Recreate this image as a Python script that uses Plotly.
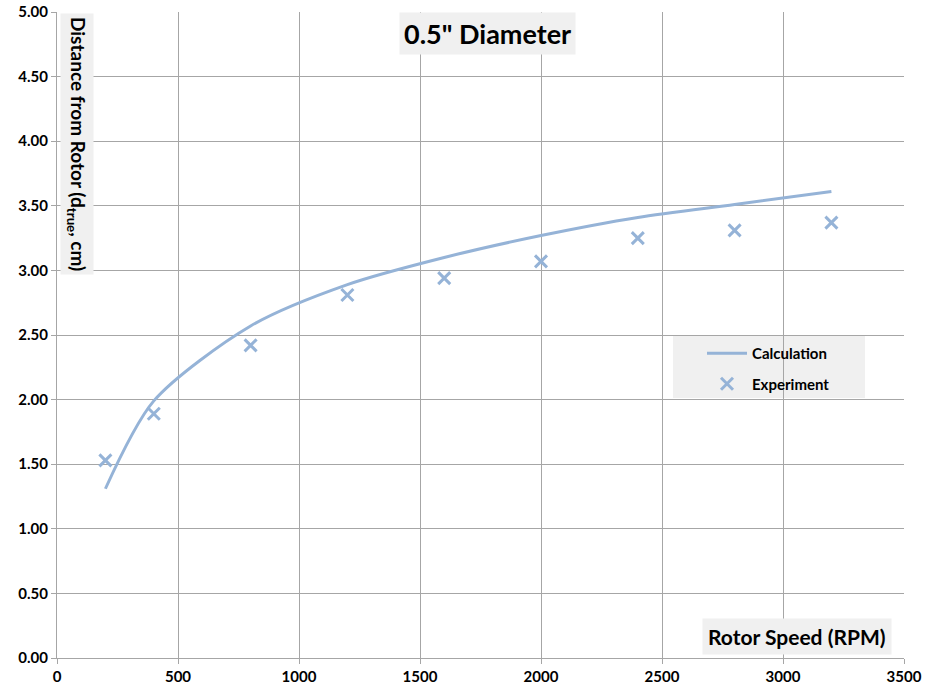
import plotly.graph_objects as go

rpm = [200, 400, 800, 1200, 1600, 2000, 2400, 2800, 3200]
calc = [1.31, 1.99, 2.57, 2.89, 3.10, 3.27, 3.41, 3.51, 3.61]
expt = [1.53, 1.89, 2.42, 2.81, 2.94, 3.07, 3.25, 3.31, 3.37]

x_ticks = [0, 500, 1000, 1500, 2000, 2500, 3000, 3500]
y_ticks = [0, 0.5, 1.0, 1.5, 2.0, 2.5, 3.0, 3.5, 4.0, 4.5, 5.0]

COL = "#95B3D7"
FONT = "Lato"
GRID = "#a6a6a6"
BOX = "#f0f0f0"

fig = go.Figure()
fig.add_trace(go.Scatter(x=rpm, y=calc, mode="lines", name="Calculation", legendgroup="a",
                         line=dict(color=COL, width=3, shape="spline", smoothing=0.8)))
fig.add_trace(go.Scatter(x=rpm, y=expt, mode="markers", name="Experiment", legendgroup="b",
                         marker=dict(symbol="x-thin", size=12, color=COL,
                                     line=dict(color=COL, width=3))))

W, H = 925, 692
L, R, T, B = 57, 21, 12, 34
pw, ph = W - L - R, H - T - B

def px(xp):
    return (xp - L) / pw

def py(yp):
    return (H - B - yp) / ph

fig.update_layout(
    width=W, height=H,
    margin=dict(l=L, r=R, t=T, b=B),
    paper_bgcolor="white", plot_bgcolor="white",
    font=dict(family=FONT, color="black"),
    showlegend=True,
    legend=dict(x=px(702), y=py(337), xanchor="left", yanchor="top",
                bgcolor="rgba(0,0,0,0)", font=dict(family=FONT, size=15, color="black", weight="bold"),
                itemwidth=40, borderwidth=0, traceorder="grouped", tracegroupgap=8),
    xaxis=dict(range=[0, 3500], tickvals=x_ticks, ticktext=[str(v) for v in x_ticks],
               showgrid=True, gridcolor=GRID, gridwidth=1, automargin=False,
               showline=True, linecolor=GRID, linewidth=1,
               ticks="outside", ticklen=5, tickcolor=GRID,
               tickfont=dict(family=FONT, size=15, weight="bold"), zeroline=False),
    yaxis=dict(range=[0, 5], tickvals=y_ticks, ticktext=[f"{v:.2f}" for v in y_ticks],
               showgrid=True, gridcolor=GRID, gridwidth=1, automargin=False,
               showline=True, linecolor=GRID, linewidth=1,
               ticks="outside", ticklen=5, tickcolor=GRID,
               tickfont=dict(family=FONT, size=15, weight="bold"), zeroline=False),
)

fig.add_shape(type="rect", xref="paper", yref="paper",
              x0=px(673), x1=px(865), y0=py(398), y1=py(336),
              fillcolor=BOX, line=dict(width=0), layer="below")

fig.add_annotation(text="<b>0.5\" Diameter</b>", xref="paper", yref="paper",
                   x=px(487), y=py(33), xanchor="center", yanchor="middle", showarrow=False,
                   font=dict(family=FONT, size=27, color="black"), bgcolor=BOX,
                   borderpad=4)
fig.add_annotation(text="<b>Distance from Rotor (d<sub>true</sub>, cm)</b>", xref="paper", yref="paper",
                   x=px(77.5), y=py(143.5), xanchor="center", yanchor="middle", showarrow=False,
                   textangle=90, font=dict(family=FONT, size=19, color="black"),
                   bgcolor=BOX, borderpad=3)
fig.add_annotation(text="<b>Rotor Speed (RPM)</b>", xref="paper", yref="paper",
                   x=px(892), y=py(655), xanchor="right", yanchor="bottom", showarrow=False,
                   font=dict(family=FONT, size=21, color="black"),
                   bgcolor=BOX, borderpad=5)

fig.write_html("out.html")
